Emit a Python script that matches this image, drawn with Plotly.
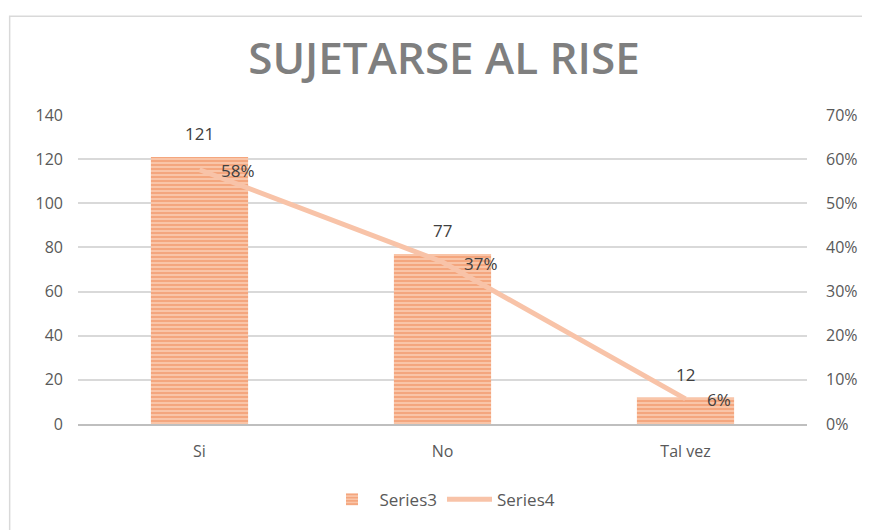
import plotly.graph_objects as go

categories = ["Si", "No", "Tal vez"]
counts = [121, 77, 12]
shares = [0.576, 0.367, 0.057]
title_text = "SUJETARSE AL RISE"

# page has an 8px body margin, so the figure is 8px smaller and margins shifted
W, H = 862, 522
L, R, T, B = 70, 56, 107, 96

fig = go.Figure()
fig.add_trace(go.Bar(
    x=categories, y=counts, name="Series3",
    marker=dict(color="#F9BFA0", line=dict(width=0),
                pattern=dict(shape="-", fgcolor="#EE8450", bgcolor="#FAC8AD", size=4, solidity=0.55)),
    cliponaxis=False,
))
fig.add_trace(go.Scatter(
    x=categories, y=shares, name="Series4", yaxis="y2", mode="lines",
    line=dict(color="#F8C3A8", width=5),
    cliponaxis=False,
))
lbl_font = dict(size=17, color="#404040", family="Open Sans")
for c, v in zip(categories, counts):
    fig.add_annotation(x=c, y=v, text=str(v), showarrow=False, yanchor="bottom", yshift=10,
                       font=lbl_font)
for c, s in zip(categories, shares):
    fig.add_annotation(x=c, y=s, yref="y2", text=f"{s:.0%}", showarrow=False,
                       xanchor="left", xshift=19, yshift=-1, font=lbl_font)

fig.update_layout(
    width=W, height=H,
    margin=dict(l=L, r=R, t=T, b=B),
    paper_bgcolor="white", plot_bgcolor="white",
    font=dict(family="Open Sans", color="#595959", size=15),
    title=dict(text=title_text, x=(444 - 8) / W, xanchor="center", y=1 - (59 - 8) / H, yanchor="middle",
               font=dict(family="Open Sans", size=44, weight=600, color="#7F7F7F")),
    bargap=0.6,
    showlegend=True,
    legend=dict(orientation="h", x=0.5, xanchor="center", y=-0.245, yanchor="middle",
                font=dict(size=17, color="#595959"), itemwidth=45),
    xaxis=dict(showgrid=False, showline=True, linecolor="#BFBFBF", linewidth=2,
               ticks="", tickfont=dict(size=16), ticklabelstandoff=12),
    yaxis=dict(range=[0, 140], dtick=20, showgrid=True, gridcolor="#D9D9D9", gridwidth=1.5,
               zeroline=False, ticks="", tickfont=dict(size=16), ticklabelstandoff=14),
    yaxis2=dict(range=[0, 0.7], dtick=0.1, tickformat=".0%", overlaying="y", side="right",
                showgrid=False, zeroline=False, ticks="", tickfont=dict(size=16), ticklabelstandoff=18),
    shapes=[dict(type="rect", xref="paper", yref="paper",
                 x0=(1 - L) / (W - L - R), x1=1.3, y0=-0.6, y1=1 + (T - 5) / (H - T - B),
                 line=dict(color="#D9D9D9", width=1.5), fillcolor="rgba(0,0,0,0)", layer="below")],
)

fig.write_html("out.html")
